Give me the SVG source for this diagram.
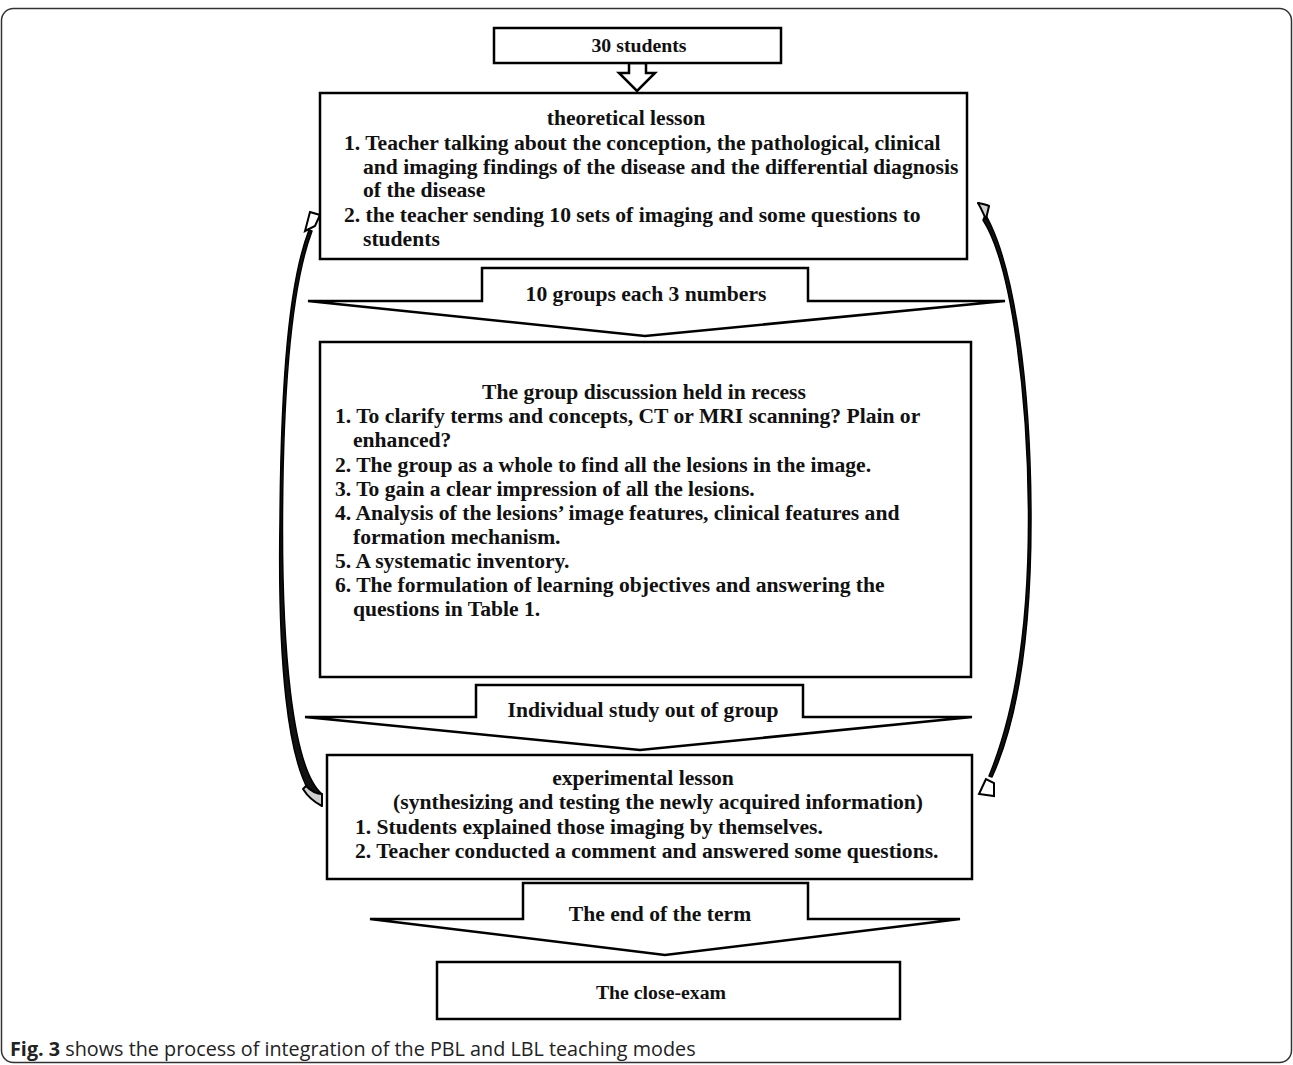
<svg xmlns="http://www.w3.org/2000/svg" width="1293" height="1065" viewBox="0 0 1293 1065">
<style>
.box{fill:#fff;stroke:#000;stroke-width:2.5}
.arr{fill:#fff;stroke:#000;stroke-width:2.5;stroke-linejoin:miter}
.t{font-family:"Liberation Serif","Times New Roman",serif;font-weight:bold;font-size:21.6px;fill:#111}
.s{font-size:19.8px}
.c{text-anchor:middle}
.band{fill:#111;stroke:#000;stroke-width:1.5;stroke-linejoin:round}
.tail{fill:#cfcfcf;stroke:#000;stroke-width:2;stroke-linejoin:round}
.head{fill:#fff;stroke:#000;stroke-width:2;stroke-linejoin:miter}
.cap{font-family:"Open Sans","Noto Sans",sans-serif;font-size:19.8px;fill:#222}
</style>
<rect x="1.5" y="8.5" width="1290" height="1054" rx="12" fill="#fff" stroke="#333" stroke-width="1.5"/>

<g id="connectors">
  <polygon class="arr" points="629,63 646,63 646,73 655,73 637,91 619,73 629,73"/>
  <g id="arrow-groups">
    <polygon class="arr" points="482,268 808,268 808,301 1005,301 645,336 308,301 482,301"/>
    <text class="t c" x="646" y="301">10 groups each 3 numbers</text>
  </g>
  <g id="arrow-individual">
    <polygon class="arr" points="476,685 803,685 803,717 972,717 640,750 305,717 476,717"/>
    <text class="t c" x="643" y="717">Individual study out of group</text>
  </g>
  <g id="arrow-end">
    <polygon class="arr" points="523,883 808,883 808,919 960,919 665,955 370,919 523,919"/>
    <text class="t c" x="660" y="921">The end of the term</text>
  </g>
  <g id="loop-left">
    <path class="band" d="M322,806 C284,781 278,640 280,520 C281,380 289,282 309,230 L312,231 C292,284 283,380 282.5,520 C282,640 291,768 322,794 Z"/>
    <path class="tail" d="M322,806 C314,802 308,797 303,789 L306,786 C311,791 316,794 322,794 Z"/>
    <polygon class="head" points="310,212 320,215 315,226 305,231"/>
  </g>
  <g id="loop-right">
    <path class="band" d="M978,203 C1017,255 1031,400 1031,520 C1031,640 1017,722 992,777 L989,776 C1012,720 1028.5,640 1028.5,520 C1028.5,400 1012,265 983,220 L989,206 Z"/>
    <path class="tail" d="M978,203 C983,204 987,205 989,206 L986,219 C983,213 981,208 978,203 Z"/>
    <polygon class="head" points="986,779 979,794 994,796 994,783"/>
  </g>
</g>

<g id="node-students">
  <rect class="box" x="494" y="28" width="287" height="35"/>
  <text class="t s c" x="639" y="52">30 students</text>
</g>

<g id="node-theoretical">
  <rect class="box" x="320" y="93" width="647" height="166"/>
  <text class="t c" x="626" y="125">theoretical  lesson</text>
  <text class="t" x="344" y="150">1. Teacher talking about the conception, the pathological, clinical</text>
  <text class="t" x="363" y="174">and imaging findings of the disease and the differential diagnosis</text>
  <text class="t" x="363" y="197">of the disease</text>
  <text class="t" x="344" y="222">2. the teacher sending 10 sets of imaging and some questions to</text>
  <text class="t" x="363" y="246">students</text>
</g>

<g id="node-discussion">
  <rect class="box" x="320" y="342" width="651" height="335"/>
  <text class="t c" x="644" y="399">The group discussion held in recess</text>
  <text class="t" x="335" y="423">1. To clarify terms and concepts, CT or MRI scanning? Plain or</text>
  <text class="t" x="353" y="447">enhanced?</text>
  <text class="t" x="335" y="472">2. The group as a whole to find all the lesions in the image.</text>
  <text class="t" x="335" y="496">3. To gain a clear impression of all the lesions.</text>
  <text class="t" x="335" y="520">4. Analysis of the lesions’ image features, clinical features and</text>
  <text class="t" x="353" y="544">formation mechanism.</text>
  <text class="t" x="335" y="568">5. A systematic inventory.</text>
  <text class="t" x="335" y="592">6. The formulation of learning objectives and answering the</text>
  <text class="t" x="353" y="616">questions in Table 1.</text>
</g>

<g id="node-experimental">
  <rect class="box" x="327" y="755" width="645" height="124"/>
  <text class="t c" x="643" y="785">experimental lesson</text>
  <text class="t c" x="658" y="809">(synthesizing and testing the newly acquired information)</text>
  <text class="t" x="355" y="834">1. Students explained those imaging by themselves.</text>
  <text class="t" x="355" y="858">2. Teacher conducted a comment and answered some questions.</text>
</g>

<g id="node-exam">
  <rect class="box" x="437" y="962" width="463" height="57"/>
  <text class="t s c" x="661" y="999">The close-exam</text>
</g>

<text class="cap" x="10" y="1056"><tspan font-weight="bold">Fig. 3</tspan> shows the process of integration of the PBL and LBL teaching modes</text>
</svg>
